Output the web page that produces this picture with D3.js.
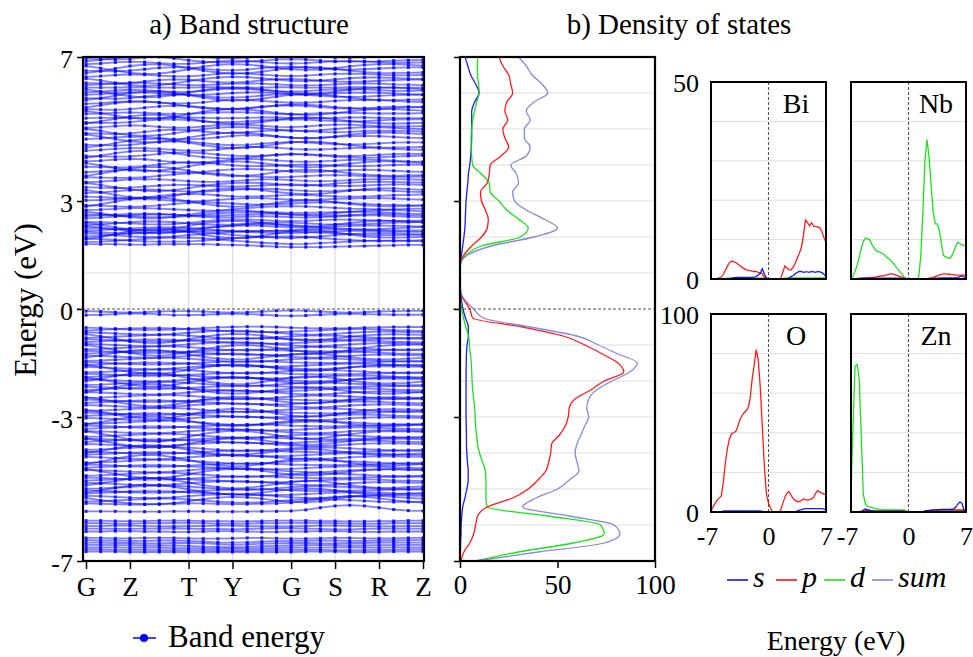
<!DOCTYPE html>
<html><head><meta charset="utf-8">
<script src="https://cdn.jsdelivr.net/npm/d3@7"></script>
<style>
body{margin:0;background:#fff}
</style>
</head><body>
<svg id="c" width="973" height="657"></svg>
<script>
// ---------------- DATA ----------------
const kLabels = ["G","Z","T","Y","G","S","R","Z"];
const kLabelIndex = [0,3,7,10,14,17,20,23];
const energyTicks = [7,3,0,-3,-7];

const conductionBands = [
[1.80,1.80,1.80,1.79,1.79,1.80,1.80,1.80,1.80,1.79,1.78,1.77,1.75,1.73,1.72,1.72,1.72,1.73,1.74,1.75,1.76,1.77,1.78,1.78],
[1.86,1.87,1.89,1.92,1.95,1.97,1.98,1.98,1.96,1.93,1.90,1.87,1.84,1.82,1.80,1.81,1.83,1.85,1.87,1.89,1.90,1.90,1.89,1.88],
[1.95,1.94,1.92,1.90,1.88,1.87,1.87,1.88,1.90,1.93,1.96,1.98,2.00,2.01,2.02,2.00,1.97,1.94,1.92,1.90,1.89,1.89,1.90,1.91],
[1.95,2.00,2.08,2.16,2.22,2.24,2.21,2.14,2.06,2.00,1.97,1.98,2.03,2.10,2.16,2.19,2.18,2.13,2.07,2.02,1.99,1.98,1.99,2.01],
[2.02,2.03,2.06,2.10,2.13,2.15,2.16,2.15,2.13,2.10,2.06,2.03,2.00,1.98,1.97,1.99,2.02,2.05,2.08,2.10,2.11,2.10,2.08,2.06],
[2.10,2.08,2.05,2.02,2.00,2.00,2.02,2.05,2.08,2.11,2.14,2.16,2.17,2.17,2.16,2.14,2.12,2.10,2.08,2.06,2.05,2.05,2.06,2.08],
[2.15,2.13,2.11,2.10,2.10,2.12,2.14,2.16,2.17,2.17,2.16,2.14,2.12,2.11,2.11,2.12,2.14,2.16,2.17,2.17,2.16,2.15,2.14,2.14],
[2.18,2.19,2.21,2.24,2.26,2.27,2.27,2.25,2.22,2.19,2.17,2.16,2.16,2.17,2.19,2.21,2.22,2.22,2.21,2.20,2.19,2.18,2.18,2.18],
[2.25,2.24,2.22,2.20,2.19,2.19,2.20,2.22,2.26,2.29,2.31,2.32,2.31,2.29,2.27,2.26,2.27,2.29,2.31,2.32,2.32,2.31,2.30,2.29],
[2.30,2.27,2.22,2.16,2.12,2.10,2.12,2.17,2.23,2.28,2.32,2.35,2.36,2.35,2.33,2.30,2.27,2.24,2.22,2.21,2.22,2.24,2.26,2.28],
[2.33,2.35,2.38,2.41,2.43,2.43,2.41,2.38,2.35,2.34,2.35,2.37,2.39,2.40,2.40,2.38,2.36,2.35,2.35,2.36,2.38,2.40,2.41,2.42],
[2.40,2.34,2.27,2.21,2.18,2.19,2.24,2.31,2.38,2.43,2.45,2.44,2.40,2.35,2.31,2.29,2.30,2.34,2.39,2.43,2.45,2.45,2.43,2.41],
[2.42,2.41,2.40,2.38,2.36,2.35,2.36,2.39,2.43,2.47,2.49,2.49,2.47,2.45,2.44,2.45,2.47,2.48,2.48,2.47,2.46,2.45,2.45,2.46],
[2.52,2.54,2.57,2.60,2.62,2.63,2.62,2.59,2.56,2.54,2.55,2.57,2.58,2.57,2.55,2.54,2.55,2.57,2.59,2.60,2.60,2.58,2.56,2.55],
[2.58,2.60,2.62,2.64,2.65,2.64,2.62,2.60,2.59,2.59,2.61,2.63,2.64,2.64,2.62,2.60,2.59,2.59,2.61,2.63,2.64,2.63,2.61,2.60],
[2.63,2.62,2.60,2.58,2.56,2.55,2.56,2.58,2.62,2.66,2.68,2.69,2.69,2.68,2.67,2.67,2.68,2.69,2.70,2.70,2.69,2.67,2.65,2.64],
[2.70,2.66,2.60,2.55,2.52,2.52,2.56,2.62,2.68,2.72,2.74,2.73,2.70,2.66,2.63,2.62,2.63,2.66,2.70,2.73,2.75,2.75,2.73,2.71],
[2.75,2.76,2.78,2.80,2.80,2.79,2.77,2.75,2.73,2.74,2.77,2.80,2.83,2.85,2.86,2.85,2.83,2.81,2.79,2.78,2.77,2.77,2.78,2.79],
[2.85,2.91,2.98,3.05,3.09,3.10,3.06,2.99,2.92,2.87,2.84,2.85,2.89,2.95,3.00,3.02,3.01,2.97,2.92,2.88,2.86,2.85,2.86,2.87],
[2.88,2.87,2.85,2.84,2.85,2.88,2.92,2.95,2.96,2.95,2.93,2.91,2.90,2.91,2.93,2.95,2.96,2.96,2.94,2.92,2.90,2.89,2.88,2.88],
[3.02,3.03,3.05,3.07,3.06,3.04,3.01,2.99,3.00,3.03,3.06,3.08,3.08,3.06,3.04,3.03,3.04,3.06,3.07,3.08,3.08,3.07,3.05,3.04],
[3.12,3.11,3.09,3.08,3.10,3.14,3.18,3.20,3.19,3.16,3.13,3.12,3.13,3.15,3.17,3.17,3.15,3.13,3.12,3.12,3.14,3.16,3.17,3.18],
[3.22,3.24,3.27,3.30,3.32,3.31,3.28,3.26,3.26,3.28,3.31,3.33,3.34,3.33,3.30,3.28,3.27,3.28,3.30,3.31,3.30,3.28,3.26,3.25],
[3.30,3.24,3.17,3.11,3.08,3.09,3.14,3.21,3.28,3.33,3.35,3.34,3.30,3.25,3.21,3.19,3.20,3.24,3.29,3.33,3.35,3.35,3.33,3.31],
[3.38,3.37,3.36,3.37,3.40,3.43,3.45,3.45,3.43,3.41,3.40,3.41,3.43,3.45,3.46,3.45,3.43,3.42,3.42,3.43,3.45,3.46,3.46,3.45],
[3.50,3.45,3.38,3.32,3.28,3.27,3.30,3.36,3.42,3.47,3.50,3.51,3.50,3.47,3.44,3.43,3.45,3.48,3.51,3.53,3.54,3.53,3.52,3.51],
[3.52,3.54,3.57,3.60,3.61,3.60,3.58,3.55,3.53,3.53,3.55,3.58,3.60,3.60,3.58,3.56,3.55,3.56,3.58,3.60,3.61,3.61,3.60,3.59],
[3.66,3.65,3.64,3.64,3.66,3.70,3.74,3.77,3.78,3.76,3.72,3.69,3.67,3.66,3.67,3.69,3.71,3.72,3.71,3.69,3.68,3.67,3.67,3.68],
[3.70,3.76,3.83,3.90,3.94,3.95,3.91,3.84,3.77,3.72,3.69,3.70,3.74,3.80,3.85,3.87,3.86,3.82,3.77,3.73,3.71,3.70,3.71,3.72],
[3.80,3.82,3.85,3.87,3.86,3.83,3.80,3.79,3.81,3.85,3.88,3.89,3.88,3.85,3.82,3.81,3.82,3.84,3.86,3.87,3.86,3.84,3.82,3.81],
[3.95,3.94,3.93,3.94,3.97,4.02,4.06,4.08,4.07,4.03,3.99,3.97,3.97,3.98,4.00,4.01,4.00,3.98,3.97,3.97,3.98,4.00,4.01,4.01],
[4.05,3.99,3.92,3.86,3.83,3.84,3.89,3.96,4.03,4.08,4.10,4.09,4.05,4.00,3.96,3.94,3.95,3.99,4.04,4.08,4.10,4.10,4.08,4.06],
[4.10,4.12,4.15,4.17,4.16,4.12,4.08,4.06,4.07,4.11,4.15,4.17,4.16,4.13,4.10,4.09,4.10,4.12,4.14,4.15,4.14,4.12,4.10,4.09],
[4.20,4.26,4.33,4.38,4.40,4.38,4.33,4.27,4.22,4.19,4.18,4.20,4.24,4.28,4.30,4.29,4.26,4.23,4.21,4.20,4.21,4.23,4.25,4.26],
[4.25,4.24,4.23,4.24,4.27,4.31,4.34,4.35,4.33,4.29,4.26,4.25,4.26,4.28,4.30,4.30,4.28,4.26,4.25,4.26,4.28,4.30,4.31,4.31],
[4.40,4.42,4.45,4.47,4.47,4.45,4.42,4.40,4.40,4.43,4.47,4.50,4.50,4.48,4.45,4.43,4.43,4.45,4.47,4.48,4.47,4.45,4.43,4.42],
[4.48,4.54,4.61,4.68,4.72,4.73,4.69,4.62,4.55,4.50,4.47,4.48,4.52,4.58,4.63,4.65,4.64,4.60,4.55,4.51,4.49,4.48,4.49,4.50],
[4.56,4.55,4.54,4.56,4.60,4.64,4.66,4.65,4.61,4.57,4.55,4.56,4.59,4.62,4.64,4.63,4.60,4.58,4.57,4.58,4.60,4.62,4.63,4.63],
[4.72,4.74,4.77,4.79,4.78,4.75,4.72,4.71,4.73,4.77,4.81,4.83,4.82,4.79,4.76,4.75,4.76,4.78,4.80,4.81,4.80,4.78,4.76,4.75],
[4.85,4.79,4.72,4.66,4.63,4.64,4.69,4.76,4.83,4.88,4.90,4.89,4.85,4.80,4.76,4.74,4.75,4.79,4.84,4.88,4.90,4.90,4.88,4.86],
[4.88,4.87,4.86,4.88,4.92,4.96,4.98,4.97,4.93,4.90,4.89,4.91,4.94,4.96,4.96,4.94,4.92,4.91,4.92,4.94,4.95,4.95,4.94,4.93],
[5.00,4.95,4.88,4.83,4.81,4.83,4.88,4.94,5.00,5.04,5.06,5.05,5.02,4.98,4.95,4.94,4.96,5.00,5.03,5.05,5.05,5.03,5.01,5.00],
[5.03,5.05,5.08,5.10,5.09,5.06,5.04,5.04,5.07,5.11,5.13,5.12,5.09,5.06,5.05,5.07,5.10,5.12,5.12,5.10,5.08,5.07,5.07,5.08],
[5.15,5.21,5.28,5.35,5.39,5.40,5.36,5.29,5.22,5.17,5.14,5.15,5.19,5.25,5.30,5.32,5.31,5.27,5.22,5.18,5.16,5.15,5.16,5.17],
[5.18,5.17,5.17,5.19,5.23,5.26,5.27,5.25,5.21,5.19,5.19,5.21,5.24,5.26,5.27,5.26,5.24,5.22,5.21,5.22,5.24,5.26,5.27,5.27],
[5.30,5.31,5.31,5.30,5.30,5.31,5.32,5.32,5.31,5.30,5.30,5.31,5.32,5.32,5.31,5.30,5.30,5.31,5.32,5.32,5.31,5.30,5.30,5.30],
[5.42,5.43,5.45,5.46,5.45,5.43,5.42,5.42,5.44,5.46,5.47,5.46,5.44,5.42,5.41,5.42,5.44,5.45,5.45,5.44,5.43,5.43,5.43,5.44],
[5.50,5.44,5.37,5.31,5.28,5.29,5.34,5.41,5.48,5.53,5.55,5.54,5.50,5.45,5.41,5.39,5.40,5.44,5.49,5.53,5.55,5.55,5.53,5.51],
[5.55,5.54,5.53,5.55,5.59,5.63,5.65,5.64,5.60,5.57,5.56,5.58,5.62,5.65,5.66,5.64,5.61,5.58,5.57,5.58,5.60,5.62,5.62,5.61],
[5.60,5.66,5.72,5.76,5.77,5.74,5.69,5.63,5.58,5.55,5.55,5.57,5.61,5.65,5.68,5.68,5.65,5.61,5.58,5.56,5.56,5.58,5.60,5.61],
[5.70,5.72,5.75,5.77,5.76,5.73,5.71,5.71,5.74,5.78,5.81,5.81,5.78,5.75,5.73,5.73,5.75,5.78,5.80,5.81,5.80,5.78,5.76,5.75],
[5.80,5.86,5.93,6.00,6.04,6.05,6.01,5.94,5.87,5.82,5.79,5.80,5.84,5.90,5.95,5.97,5.96,5.92,5.87,5.83,5.81,5.80,5.81,5.82],
[5.86,5.85,5.84,5.86,5.90,5.94,5.96,5.95,5.91,5.88,5.87,5.89,5.93,5.96,5.97,5.95,5.92,5.90,5.89,5.90,5.92,5.94,5.95,5.95],
[5.95,5.97,6.00,6.02,6.02,6.00,5.97,5.95,5.95,5.97,6.00,6.02,6.02,6.00,5.97,5.96,5.97,5.99,6.01,6.02,6.01,5.99,5.97,5.96],
[6.02,6.04,6.07,6.09,6.08,6.05,6.03,6.03,6.06,6.10,6.12,6.11,6.08,6.05,6.04,6.05,6.08,6.10,6.11,6.10,6.08,6.06,6.06,6.07],
[6.10,6.04,5.97,5.91,5.88,5.89,5.94,6.01,6.08,6.13,6.15,6.14,6.10,6.05,6.01,5.99,6.00,6.04,6.09,6.13,6.15,6.15,6.13,6.11],
[6.15,6.15,6.15,6.16,6.16,6.15,6.15,6.15,6.16,6.16,6.15,6.15,6.15,6.16,6.16,6.15,6.15,6.15,6.16,6.16,6.15,6.15,6.15,6.15],
[6.22,6.24,6.26,6.28,6.28,6.26,6.24,6.22,6.22,6.24,6.26,6.27,6.26,6.24,6.22,6.21,6.22,6.24,6.26,6.27,6.26,6.24,6.23,6.22],
[6.28,6.27,6.26,6.28,6.32,6.36,6.38,6.37,6.33,6.30,6.29,6.31,6.35,6.38,6.39,6.37,6.34,6.32,6.31,6.32,6.34,6.36,6.37,6.37],
[6.40,6.35,6.28,6.22,6.20,6.22,6.27,6.33,6.39,6.43,6.45,6.44,6.41,6.37,6.34,6.33,6.35,6.38,6.41,6.43,6.43,6.42,6.40,6.39],
[6.45,6.47,6.50,6.52,6.51,6.48,6.46,6.46,6.49,6.53,6.55,6.54,6.51,6.48,6.47,6.48,6.51,6.53,6.54,6.53,6.51,6.49,6.49,6.50],
[6.55,6.61,6.68,6.75,6.79,6.80,6.76,6.69,6.62,6.57,6.54,6.55,6.59,6.65,6.70,6.72,6.71,6.67,6.62,6.58,6.56,6.55,6.56,6.57],
[6.62,6.61,6.60,6.62,6.66,6.70,6.72,6.71,6.67,6.64,6.63,6.65,6.69,6.72,6.73,6.71,6.68,6.66,6.65,6.66,6.68,6.70,6.71,6.71],
[6.75,6.69,6.62,6.56,6.53,6.54,6.59,6.66,6.73,6.78,6.80,6.79,6.75,6.70,6.66,6.64,6.65,6.69,6.74,6.78,6.80,6.80,6.78,6.76],
[6.80,6.82,6.85,6.87,6.86,6.83,6.81,6.81,6.84,6.88,6.90,6.89,6.86,6.83,6.82,6.83,6.86,6.88,6.89,6.88,6.86,6.84,6.84,6.85],
[6.88,6.92,6.97,7.01,7.02,7.00,6.96,6.91,6.87,6.85,6.85,6.87,6.90,6.93,6.94,6.93,6.90,6.88,6.87,6.87,6.88,6.90,6.91,6.92],
[6.95,6.94,6.93,6.95,6.99,7.03,7.05,7.04,7.00,6.97,6.96,6.98,7.02,7.05,7.06,7.04,7.01,6.99,6.98,6.99,7.01,7.03,7.04,7.04]
];

const gapBands = [
[-0.06,-0.07,-0.09,-0.10,-0.09,-0.07,-0.06,-0.06,-0.07,-0.09,-0.10,-0.09,-0.07,-0.05,-0.04,-0.05,-0.07,-0.09,-0.10,-0.09,-0.07,-0.06,-0.05,-0.05],
[-0.17,-0.16,-0.14,-0.12,-0.13,-0.15,-0.17,-0.17,-0.16,-0.14,-0.13,-0.14,-0.16,-0.18,-0.19,-0.18,-0.16,-0.14,-0.13,-0.14,-0.15,-0.16,-0.16,-0.16]
];

const valenceBands = [
[-0.52,-0.53,-0.55,-0.57,-0.58,-0.58,-0.57,-0.55,-0.53,-0.51,-0.50,-0.49,-0.49,-0.50,-0.52,-0.53,-0.54,-0.54,-0.53,-0.52,-0.51,-0.50,-0.50,-0.50],
[-0.60,-0.58,-0.56,-0.54,-0.53,-0.53,-0.54,-0.56,-0.58,-0.60,-0.62,-0.63,-0.64,-0.64,-0.63,-0.61,-0.59,-0.57,-0.56,-0.56,-0.57,-0.59,-0.60,-0.61],
[-0.65,-0.66,-0.68,-0.70,-0.71,-0.71,-0.69,-0.66,-0.63,-0.61,-0.60,-0.61,-0.63,-0.66,-0.69,-0.71,-0.71,-0.69,-0.66,-0.64,-0.63,-0.63,-0.64,-0.65],
[-0.70,-0.76,-0.83,-0.90,-0.94,-0.95,-0.91,-0.84,-0.77,-0.72,-0.69,-0.70,-0.74,-0.80,-0.85,-0.87,-0.86,-0.82,-0.77,-0.73,-0.71,-0.70,-0.71,-0.72],
[-0.80,-0.79,-0.77,-0.75,-0.73,-0.72,-0.72,-0.74,-0.77,-0.80,-0.82,-0.83,-0.82,-0.79,-0.76,-0.74,-0.73,-0.74,-0.76,-0.78,-0.80,-0.81,-0.81,-0.80],
[-0.84,-0.85,-0.87,-0.89,-0.90,-0.90,-0.89,-0.87,-0.85,-0.83,-0.82,-0.81,-0.81,-0.82,-0.84,-0.85,-0.86,-0.86,-0.85,-0.84,-0.83,-0.82,-0.82,-0.82],
[-0.92,-0.90,-0.88,-0.86,-0.85,-0.85,-0.86,-0.88,-0.90,-0.92,-0.94,-0.95,-0.96,-0.96,-0.95,-0.93,-0.91,-0.89,-0.88,-0.88,-0.89,-0.91,-0.92,-0.93],
[-0.97,-0.98,-1.00,-1.02,-1.03,-1.03,-1.01,-0.98,-0.95,-0.93,-0.92,-0.93,-0.95,-0.98,-1.01,-1.03,-1.03,-1.01,-0.98,-0.96,-0.95,-0.95,-0.96,-0.97],
[-1.00,-1.06,-1.14,-1.22,-1.28,-1.30,-1.27,-1.20,-1.12,-1.05,-1.01,-1.00,-1.03,-1.08,-1.14,-1.19,-1.21,-1.19,-1.14,-1.08,-1.03,-1.00,-0.99,-0.99],
[-1.12,-1.11,-1.09,-1.07,-1.05,-1.04,-1.04,-1.06,-1.09,-1.12,-1.14,-1.15,-1.14,-1.11,-1.08,-1.06,-1.05,-1.06,-1.08,-1.10,-1.12,-1.13,-1.13,-1.12],
[-1.16,-1.17,-1.19,-1.21,-1.22,-1.22,-1.21,-1.19,-1.17,-1.15,-1.14,-1.13,-1.13,-1.14,-1.16,-1.17,-1.18,-1.18,-1.17,-1.16,-1.15,-1.14,-1.14,-1.14],
[-1.24,-1.22,-1.20,-1.18,-1.17,-1.17,-1.18,-1.20,-1.22,-1.24,-1.26,-1.27,-1.28,-1.28,-1.27,-1.25,-1.23,-1.21,-1.20,-1.20,-1.21,-1.23,-1.24,-1.25],
[-1.29,-1.30,-1.32,-1.34,-1.35,-1.35,-1.33,-1.30,-1.27,-1.25,-1.24,-1.25,-1.27,-1.30,-1.33,-1.35,-1.35,-1.33,-1.30,-1.28,-1.27,-1.27,-1.28,-1.29],
[-1.35,-1.29,-1.22,-1.16,-1.13,-1.14,-1.19,-1.26,-1.33,-1.38,-1.40,-1.39,-1.35,-1.30,-1.26,-1.24,-1.25,-1.29,-1.34,-1.38,-1.40,-1.40,-1.38,-1.36],
[-1.44,-1.43,-1.41,-1.39,-1.37,-1.36,-1.36,-1.38,-1.41,-1.44,-1.46,-1.47,-1.46,-1.43,-1.40,-1.38,-1.37,-1.38,-1.40,-1.42,-1.44,-1.45,-1.45,-1.44],
[-1.48,-1.49,-1.51,-1.53,-1.54,-1.54,-1.53,-1.51,-1.49,-1.47,-1.46,-1.45,-1.45,-1.46,-1.48,-1.49,-1.50,-1.50,-1.49,-1.48,-1.47,-1.46,-1.46,-1.46],
[-1.55,-1.61,-1.68,-1.75,-1.79,-1.80,-1.76,-1.69,-1.62,-1.57,-1.54,-1.55,-1.59,-1.65,-1.70,-1.72,-1.71,-1.67,-1.62,-1.58,-1.56,-1.55,-1.56,-1.57],
[-1.56,-1.54,-1.52,-1.50,-1.49,-1.49,-1.50,-1.52,-1.54,-1.56,-1.58,-1.59,-1.60,-1.60,-1.59,-1.57,-1.55,-1.53,-1.52,-1.52,-1.53,-1.55,-1.56,-1.57],
[-1.61,-1.62,-1.64,-1.66,-1.67,-1.67,-1.65,-1.62,-1.59,-1.57,-1.56,-1.57,-1.59,-1.62,-1.65,-1.67,-1.67,-1.65,-1.62,-1.60,-1.59,-1.59,-1.60,-1.61],
[-1.76,-1.75,-1.73,-1.71,-1.69,-1.68,-1.68,-1.70,-1.73,-1.76,-1.78,-1.79,-1.78,-1.75,-1.72,-1.70,-1.69,-1.70,-1.72,-1.74,-1.76,-1.77,-1.77,-1.76],
[-1.80,-1.81,-1.83,-1.85,-1.86,-1.86,-1.85,-1.83,-1.81,-1.79,-1.78,-1.77,-1.77,-1.78,-1.80,-1.81,-1.82,-1.82,-1.81,-1.80,-1.79,-1.78,-1.78,-1.78],
[-1.89,-1.87,-1.85,-1.83,-1.82,-1.82,-1.83,-1.85,-1.87,-1.89,-1.91,-1.92,-1.93,-1.93,-1.92,-1.90,-1.88,-1.86,-1.85,-1.85,-1.86,-1.88,-1.89,-1.90],
[-1.90,-1.96,-2.03,-2.10,-2.14,-2.15,-2.11,-2.04,-1.97,-1.92,-1.89,-1.90,-1.94,-2.00,-2.05,-2.07,-2.06,-2.02,-1.97,-1.93,-1.91,-1.90,-1.91,-1.92],
[-2.00,-1.94,-1.86,-1.80,-1.77,-1.78,-1.84,-1.92,-2.00,-2.06,-2.09,-2.08,-2.03,-1.96,-1.90,-1.87,-1.88,-1.93,-1.99,-2.04,-2.07,-2.07,-2.05,-2.02],
[-1.95,-1.96,-1.98,-2.00,-2.01,-2.01,-1.99,-1.96,-1.93,-1.91,-1.90,-1.91,-1.93,-1.96,-1.99,-2.01,-2.01,-1.99,-1.96,-1.94,-1.93,-1.93,-1.94,-1.95],
[-2.11,-2.10,-2.08,-2.06,-2.04,-2.03,-2.03,-2.05,-2.08,-2.11,-2.13,-2.14,-2.13,-2.10,-2.07,-2.05,-2.04,-2.05,-2.07,-2.09,-2.11,-2.12,-2.12,-2.11],
[-2.16,-2.17,-2.19,-2.21,-2.22,-2.22,-2.21,-2.19,-2.17,-2.15,-2.14,-2.13,-2.13,-2.14,-2.16,-2.17,-2.18,-2.18,-2.17,-2.16,-2.15,-2.14,-2.14,-2.14],
[-2.25,-2.23,-2.21,-2.19,-2.18,-2.18,-2.19,-2.21,-2.23,-2.25,-2.27,-2.28,-2.29,-2.29,-2.28,-2.26,-2.24,-2.22,-2.21,-2.21,-2.22,-2.24,-2.25,-2.26],
[-2.30,-2.24,-2.17,-2.11,-2.08,-2.09,-2.14,-2.21,-2.28,-2.33,-2.35,-2.34,-2.30,-2.25,-2.21,-2.19,-2.20,-2.24,-2.29,-2.33,-2.35,-2.35,-2.33,-2.31],
[-2.31,-2.32,-2.34,-2.36,-2.37,-2.37,-2.35,-2.32,-2.29,-2.27,-2.26,-2.27,-2.29,-2.32,-2.35,-2.37,-2.37,-2.35,-2.32,-2.30,-2.29,-2.29,-2.30,-2.31],
[-2.45,-2.51,-2.58,-2.65,-2.69,-2.70,-2.66,-2.59,-2.52,-2.47,-2.44,-2.45,-2.49,-2.55,-2.60,-2.62,-2.61,-2.57,-2.52,-2.48,-2.46,-2.45,-2.46,-2.47],
[-2.47,-2.46,-2.44,-2.42,-2.40,-2.39,-2.39,-2.41,-2.44,-2.47,-2.49,-2.50,-2.49,-2.46,-2.43,-2.41,-2.40,-2.41,-2.43,-2.45,-2.47,-2.48,-2.48,-2.47],
[-2.52,-2.53,-2.55,-2.57,-2.58,-2.58,-2.57,-2.55,-2.53,-2.51,-2.50,-2.49,-2.49,-2.50,-2.52,-2.53,-2.54,-2.54,-2.53,-2.52,-2.51,-2.50,-2.50,-2.50],
[-2.61,-2.59,-2.57,-2.55,-2.54,-2.54,-2.55,-2.57,-2.59,-2.61,-2.63,-2.64,-2.65,-2.65,-2.64,-2.62,-2.60,-2.58,-2.57,-2.57,-2.58,-2.60,-2.61,-2.62],
[-2.67,-2.68,-2.70,-2.72,-2.73,-2.73,-2.71,-2.68,-2.65,-2.63,-2.62,-2.63,-2.65,-2.68,-2.71,-2.73,-2.73,-2.71,-2.68,-2.66,-2.65,-2.65,-2.66,-2.67],
[-2.80,-2.86,-2.93,-3.00,-3.04,-3.05,-3.01,-2.94,-2.86,-2.80,-2.77,-2.78,-2.83,-2.90,-2.96,-2.99,-2.98,-2.93,-2.87,-2.82,-2.79,-2.78,-2.79,-2.80],
[-2.83,-2.82,-2.80,-2.78,-2.76,-2.75,-2.75,-2.77,-2.80,-2.83,-2.85,-2.86,-2.85,-2.82,-2.79,-2.77,-2.76,-2.77,-2.79,-2.81,-2.83,-2.84,-2.84,-2.83],
[-2.88,-2.89,-2.91,-2.93,-2.94,-2.94,-2.93,-2.91,-2.89,-2.87,-2.86,-2.85,-2.85,-2.86,-2.88,-2.89,-2.90,-2.90,-2.89,-2.88,-2.87,-2.86,-2.86,-2.86],
[-2.97,-2.95,-2.93,-2.91,-2.90,-2.90,-2.91,-2.93,-2.95,-2.97,-2.99,-3.00,-3.01,-3.01,-3.00,-2.98,-2.96,-2.94,-2.93,-2.93,-2.94,-2.96,-2.97,-2.98],
[-3.03,-3.04,-3.06,-3.08,-3.09,-3.09,-3.07,-3.04,-3.01,-2.99,-2.98,-2.99,-3.01,-3.04,-3.07,-3.09,-3.09,-3.07,-3.04,-3.02,-3.01,-3.01,-3.02,-3.03],
[-3.19,-3.18,-3.16,-3.14,-3.12,-3.11,-3.11,-3.13,-3.16,-3.19,-3.21,-3.22,-3.21,-3.18,-3.15,-3.13,-3.12,-3.13,-3.15,-3.17,-3.19,-3.20,-3.20,-3.19],
[-3.20,-3.14,-3.07,-3.01,-2.98,-2.99,-3.04,-3.11,-3.18,-3.23,-3.25,-3.24,-3.20,-3.15,-3.11,-3.09,-3.10,-3.14,-3.19,-3.23,-3.25,-3.25,-3.23,-3.21],
[-3.24,-3.25,-3.27,-3.29,-3.30,-3.30,-3.29,-3.27,-3.25,-3.23,-3.22,-3.21,-3.21,-3.22,-3.24,-3.25,-3.26,-3.26,-3.25,-3.24,-3.23,-3.22,-3.22,-3.22],
[-3.33,-3.31,-3.29,-3.27,-3.26,-3.26,-3.27,-3.29,-3.31,-3.33,-3.35,-3.36,-3.37,-3.37,-3.36,-3.34,-3.32,-3.30,-3.29,-3.29,-3.30,-3.32,-3.33,-3.34],
[-3.39,-3.40,-3.42,-3.44,-3.45,-3.45,-3.43,-3.40,-3.37,-3.35,-3.34,-3.35,-3.37,-3.40,-3.43,-3.45,-3.45,-3.43,-3.40,-3.38,-3.37,-3.37,-3.38,-3.39],
[-3.40,-3.46,-3.54,-3.62,-3.67,-3.68,-3.63,-3.55,-3.47,-3.41,-3.38,-3.39,-3.44,-3.51,-3.57,-3.60,-3.59,-3.54,-3.48,-3.43,-3.40,-3.39,-3.40,-3.41],
[-3.55,-3.54,-3.52,-3.50,-3.48,-3.47,-3.47,-3.49,-3.52,-3.55,-3.57,-3.58,-3.57,-3.54,-3.51,-3.49,-3.48,-3.49,-3.51,-3.53,-3.55,-3.56,-3.56,-3.55],
[-3.60,-3.61,-3.63,-3.65,-3.66,-3.66,-3.65,-3.63,-3.61,-3.59,-3.58,-3.57,-3.57,-3.58,-3.60,-3.61,-3.62,-3.62,-3.61,-3.60,-3.59,-3.58,-3.58,-3.58],
[-3.60,-3.66,-3.73,-3.80,-3.84,-3.85,-3.81,-3.74,-3.67,-3.62,-3.59,-3.60,-3.64,-3.70,-3.75,-3.77,-3.76,-3.72,-3.67,-3.63,-3.61,-3.60,-3.61,-3.62],
[-3.69,-3.67,-3.65,-3.63,-3.62,-3.62,-3.63,-3.65,-3.67,-3.69,-3.71,-3.72,-3.73,-3.73,-3.72,-3.70,-3.68,-3.66,-3.65,-3.65,-3.66,-3.68,-3.69,-3.70],
[-3.75,-3.76,-3.78,-3.80,-3.81,-3.81,-3.79,-3.76,-3.73,-3.71,-3.70,-3.71,-3.73,-3.76,-3.79,-3.81,-3.81,-3.79,-3.76,-3.74,-3.73,-3.73,-3.74,-3.75],
[-3.91,-3.90,-3.88,-3.86,-3.84,-3.83,-3.83,-3.85,-3.88,-3.91,-3.93,-3.94,-3.93,-3.90,-3.87,-3.85,-3.84,-3.85,-3.87,-3.89,-3.91,-3.92,-3.92,-3.91],
[-3.96,-3.97,-3.99,-4.01,-4.02,-4.02,-4.01,-3.99,-3.97,-3.95,-3.94,-3.93,-3.93,-3.94,-3.96,-3.97,-3.98,-3.98,-3.97,-3.96,-3.95,-3.94,-3.94,-3.94],
[-4.00,-3.94,-3.87,-3.81,-3.78,-3.79,-3.84,-3.91,-3.98,-4.03,-4.05,-4.04,-4.00,-3.95,-3.91,-3.89,-3.90,-3.94,-3.99,-4.03,-4.05,-4.05,-4.03,-4.01],
[-4.05,-4.03,-4.01,-3.99,-3.98,-3.98,-3.99,-4.01,-4.03,-4.05,-4.07,-4.08,-4.09,-4.09,-4.08,-4.06,-4.04,-4.02,-4.01,-4.01,-4.02,-4.04,-4.05,-4.06],
[-4.11,-4.12,-4.14,-4.16,-4.17,-4.17,-4.15,-4.12,-4.09,-4.07,-4.06,-4.07,-4.09,-4.12,-4.15,-4.17,-4.17,-4.15,-4.12,-4.10,-4.09,-4.09,-4.10,-4.11],
[-4.27,-4.26,-4.24,-4.22,-4.20,-4.19,-4.19,-4.21,-4.24,-4.27,-4.29,-4.30,-4.29,-4.26,-4.23,-4.21,-4.20,-4.21,-4.23,-4.25,-4.27,-4.28,-4.28,-4.27],
[-4.30,-4.24,-4.16,-4.09,-4.05,-4.06,-4.12,-4.20,-4.28,-4.34,-4.37,-4.36,-4.31,-4.24,-4.18,-4.15,-4.16,-4.21,-4.27,-4.32,-4.35,-4.35,-4.33,-4.31],
[-4.32,-4.33,-4.35,-4.37,-4.38,-4.38,-4.37,-4.35,-4.33,-4.31,-4.30,-4.29,-4.29,-4.30,-4.32,-4.33,-4.34,-4.34,-4.33,-4.32,-4.31,-4.30,-4.30,-4.30],
[-4.41,-4.39,-4.37,-4.35,-4.34,-4.34,-4.35,-4.37,-4.39,-4.41,-4.43,-4.44,-4.45,-4.45,-4.44,-4.42,-4.40,-4.38,-4.37,-4.37,-4.38,-4.40,-4.41,-4.42],
[-4.45,-4.51,-4.58,-4.65,-4.69,-4.70,-4.66,-4.59,-4.52,-4.47,-4.44,-4.45,-4.49,-4.55,-4.60,-4.62,-4.61,-4.57,-4.52,-4.48,-4.46,-4.45,-4.46,-4.47],
[-4.47,-4.48,-4.50,-4.52,-4.53,-4.53,-4.51,-4.48,-4.45,-4.43,-4.42,-4.43,-4.45,-4.48,-4.51,-4.53,-4.53,-4.51,-4.48,-4.46,-4.45,-4.45,-4.46,-4.47],
[-4.63,-4.62,-4.60,-4.58,-4.56,-4.55,-4.55,-4.57,-4.60,-4.63,-4.65,-4.66,-4.65,-4.62,-4.59,-4.57,-4.56,-4.57,-4.59,-4.61,-4.63,-4.64,-4.64,-4.63],
[-4.68,-4.69,-4.71,-4.73,-4.74,-4.74,-4.73,-4.71,-4.69,-4.67,-4.66,-4.65,-4.65,-4.66,-4.68,-4.69,-4.70,-4.70,-4.69,-4.68,-4.67,-4.66,-4.66,-4.66],
[-4.77,-4.75,-4.73,-4.71,-4.70,-4.70,-4.71,-4.73,-4.75,-4.77,-4.79,-4.80,-4.81,-4.81,-4.80,-4.78,-4.76,-4.74,-4.73,-4.73,-4.74,-4.76,-4.77,-4.78],
[-4.83,-4.84,-4.86,-4.88,-4.89,-4.89,-4.87,-4.84,-4.81,-4.79,-4.78,-4.79,-4.81,-4.84,-4.87,-4.89,-4.89,-4.87,-4.84,-4.82,-4.81,-4.81,-4.82,-4.83],
[-4.90,-4.84,-4.78,-4.72,-4.69,-4.70,-4.75,-4.82,-4.89,-4.95,-4.98,-4.97,-4.92,-4.86,-4.80,-4.77,-4.78,-4.83,-4.89,-4.94,-4.97,-4.97,-4.95,-4.93],
[-4.99,-4.98,-4.96,-4.94,-4.92,-4.91,-4.91,-4.93,-4.96,-4.99,-5.01,-5.02,-5.01,-4.98,-4.95,-4.93,-4.92,-4.93,-4.95,-4.97,-4.99,-5.00,-5.00,-4.99],
[-5.04,-5.05,-5.07,-5.09,-5.10,-5.10,-5.09,-5.07,-5.05,-5.03,-5.02,-5.01,-5.01,-5.02,-5.04,-5.05,-5.06,-5.06,-5.05,-5.04,-5.03,-5.02,-5.02,-5.02],
[-5.10,-5.04,-4.97,-4.91,-4.88,-4.89,-4.94,-5.01,-5.08,-5.13,-5.15,-5.14,-5.10,-5.05,-5.01,-4.99,-5.00,-5.04,-5.09,-5.13,-5.15,-5.15,-5.13,-5.11],
[-5.13,-5.11,-5.09,-5.07,-5.06,-5.06,-5.07,-5.09,-5.11,-5.13,-5.15,-5.16,-5.17,-5.17,-5.16,-5.14,-5.12,-5.10,-5.09,-5.09,-5.10,-5.12,-5.13,-5.14],
[-5.19,-5.20,-5.22,-5.24,-5.25,-5.25,-5.23,-5.20,-5.17,-5.15,-5.14,-5.15,-5.17,-5.20,-5.23,-5.25,-5.25,-5.23,-5.20,-5.18,-5.17,-5.17,-5.18,-5.19],
[-5.25,-5.31,-5.36,-5.40,-5.42,-5.42,-5.39,-5.34,-5.28,-5.24,-5.22,-5.23,-5.27,-5.32,-5.36,-5.37,-5.34,-5.28,-5.22,-5.19,-5.19,-5.22,-5.25,-5.27],
[-5.35,-5.34,-5.32,-5.30,-5.28,-5.27,-5.27,-5.29,-5.32,-5.35,-5.37,-5.38,-5.37,-5.34,-5.31,-5.29,-5.28,-5.29,-5.31,-5.33,-5.35,-5.36,-5.36,-5.35],
[-5.40,-5.41,-5.42,-5.43,-5.43,-5.42,-5.41,-5.40,-5.40,-5.41,-5.42,-5.42,-5.41,-5.40,-5.38,-5.33,-5.27,-5.22,-5.20,-5.22,-5.26,-5.31,-5.35,-5.38],
[-5.62,-5.62,-5.62,-5.63,-5.63,-5.63,-5.62,-5.62,-5.62,-5.63,-5.63,-5.63,-5.62,-5.62,-5.61,-5.58,-5.52,-5.47,-5.45,-5.47,-5.52,-5.57,-5.60,-5.61]
];

const semicoreBands = [
[-5.88,-5.88,-5.89,-5.89,-5.89,-5.88,-5.88,-5.88,-5.89,-5.89,-5.90,-5.90,-5.89,-5.88,-5.88,-5.88,-5.89,-5.89,-5.90,-5.90,-5.89,-5.89,-5.88,-5.88],
[-5.95,-5.95,-5.96,-5.96,-5.95,-5.95,-5.94,-5.94,-5.95,-5.96,-5.96,-5.96,-5.95,-5.95,-5.94,-5.94,-5.95,-5.95,-5.96,-5.96,-5.96,-5.95,-5.95,-5.95],
[-6.03,-6.03,-6.02,-6.02,-6.03,-6.04,-6.04,-6.03,-6.03,-6.02,-6.02,-6.03,-6.04,-6.04,-6.04,-6.03,-6.02,-6.02,-6.03,-6.03,-6.04,-6.04,-6.03,-6.03],
[-6.10,-6.10,-6.11,-6.11,-6.10,-6.10,-6.09,-6.10,-6.11,-6.11,-6.12,-6.11,-6.10,-6.09,-6.09,-6.10,-6.11,-6.12,-6.12,-6.11,-6.10,-6.10,-6.10,-6.10],
[-6.18,-6.18,-6.17,-6.17,-6.18,-6.18,-6.19,-6.19,-6.18,-6.17,-6.17,-6.18,-6.19,-6.19,-6.18,-6.18,-6.17,-6.17,-6.18,-6.19,-6.19,-6.18,-6.18,-6.18],
[-6.36,-6.36,-6.37,-6.37,-6.36,-6.36,-6.36,-6.37,-6.38,-6.38,-6.37,-6.36,-6.36,-6.37,-6.38,-6.38,-6.37,-6.36,-6.36,-6.37,-6.37,-6.37,-6.36,-6.36],
[-6.42,-6.43,-6.43,-6.44,-6.44,-6.43,-6.43,-6.44,-6.46,-6.48,-6.49,-6.48,-6.46,-6.45,-6.44,-6.44,-6.43,-6.43,-6.44,-6.44,-6.43,-6.43,-6.42,-6.42],
[-6.49,-6.49,-6.50,-6.50,-6.51,-6.51,-6.50,-6.50,-6.51,-6.53,-6.55,-6.54,-6.52,-6.51,-6.50,-6.50,-6.51,-6.51,-6.50,-6.50,-6.49,-6.49,-6.49,-6.49],
[-6.55,-6.55,-6.56,-6.56,-6.57,-6.57,-6.57,-6.58,-6.60,-6.61,-6.62,-6.61,-6.59,-6.58,-6.57,-6.56,-6.56,-6.56,-6.57,-6.57,-6.56,-6.56,-6.55,-6.55],
[-6.62,-6.62,-6.62,-6.63,-6.63,-6.63,-6.64,-6.64,-6.65,-6.66,-6.66,-6.66,-6.65,-6.64,-6.63,-6.63,-6.63,-6.62,-6.62,-6.63,-6.63,-6.62,-6.62,-6.62],
[-6.68,-6.68,-6.69,-6.69,-6.69,-6.70,-6.70,-6.70,-6.70,-6.71,-6.71,-6.71,-6.70,-6.70,-6.69,-6.69,-6.69,-6.70,-6.70,-6.70,-6.69,-6.69,-6.68,-6.68],
[-6.74,-6.74,-6.74,-6.75,-6.75,-6.75,-6.75,-6.75,-6.75,-6.75,-6.75,-6.75,-6.75,-6.75,-6.75,-6.74,-6.74,-6.74,-6.75,-6.75,-6.75,-6.74,-6.74,-6.74]
];

const energyGrid = [-7,-6.75,-6.5,-6.25,-6,-5.75,-5.5,-5.25,-5,-4.75,-4.5,-4.25,-4,-3.75,-3.5,-3.25,-3,-2.75,-2.5,-2.25,-2,-1.75,-1.5,-1.25,-1,-0.75,-0.5,-0.25,0,0.25,0.5,0.75,1,1.25,1.5,1.75,2,2.25,2.5,2.75,3,3.25,3.5,3.75,4,4.25,4.5,4.75,5,5.25,5.5,5.75,6,6.25,6.5,6.75,7];

// total DOS (panel b)
const dosS   = [0,0.2,0.3,0.5,0.6,0.9,1.4,2.5,3.5,4.2,4.2,3.8,3.5,3.3,3.3,3.2,3.1,3.1,3.1,3.1,3.1,3.1,3.2,3.3,3.6,4.3,4.3,2.8,1.5,0.8,0.3,0,0,0,0.8,1.4,2,2.5,2.7,2.9,3.1,3.5,4,4.3,5,5.5,5.8,6,6,6,6,7.5,9.8,8,5.5,4,2.6];
const dosP   = [0.5,2,5,7,8,9,14,27,35,40,44,45.5,46.5,47,51,54,55.5,56,59,67,74,84,81,73,64,53,32,6.5,5,2,0,0,0,0,2,6,11,14,14.5,13,11,10.5,14,15,15.5,21,25,23,22,24.5,23,24,27,26,25,22,20];
const dosD   = [8,30,58,74,72,45,14,13.3,13.3,13.3,13,11.5,10,9,8.5,8,7.8,7.5,7,6.5,6.2,6,5.8,5.3,4.8,4.4,3,1.8,0.9,0.4,0,0,0,0.3,3,11,31,35,30,24,20,15.5,15,11,6.5,6,5.8,5.7,6,6.5,7.5,8.5,9.8,9.5,9,9,9];
const dosSum = [8,40,74,82,79,56,32,39,50,56,61,60,59,60,62,64,66,65,66,70,78,87,91,81,71,60,36,12,7,2.5,0.3,0,0,0.3,4,16,38,50,43,34,28,27,30,29,26,34,36,33,33,36,34,38,45,42,37,34,30];

// projected DOS (small panels)
const biS = [0,0,0,0,0,0,0,0,0,0.1,0.2,0.3,0.4,0.4,0.4,0.4,0.4,0.4,0.4,0.4,0.4,0.5,0.6,1,1.5,2.6,1.2,0.3,0,0,0,0,0,0,0,0,0,0.1,0.3,0.6,0.9,1.3,1.7,1.9,1.9,1.7,1.8,1.8,1.7,1.9,1.8,1.7,1.9,1.8,1.6,1.2,0.7];
const biP = [0,0,0,0.1,0.3,0.5,1.2,2.2,3.3,4.2,4.5,4.4,4.2,3.8,3.4,3,2.7,2.4,2.2,2.1,2,1.9,1.9,1.7,1.6,1.3,0.4,0.1,0,0,0,0,0,0,0.2,1.8,3.3,2.8,2.3,2.3,3,4,5.3,6.5,8,11,15,14.3,13.5,14.3,13.4,13.3,13.2,13,12,10.5,9.2];
const biD = [0,0,0,0,0,0,0.1,0.1,0.2,0.2,0.2,0.2,0.2,0.2,0.2,0.2,0.2,0.2,0.2,0.2,0.2,0.2,0.2,0.2,0.2,0.2,0.1,0,0,0,0,0,0,0,0,0.1,0.2,0.2,0.3,0.3,0.3,0.3,0.3,0.3,0.3,0.3,0.3,0.3,0.3,0.3,0.3,0.3,0.3,0.3,0.3,0.3,0.3];
const nbS = [0,0,0.1,0.1,0.2,0.2,0.2,0.2,0.2,0.2,0.2,0.2,0.2,0.2,0.2,0.2,0.2,0.2,0.2,0.2,0.2,0.2,0.2,0.2,0.2,0.1,0.1,0,0,0,0,0,0,0,0,0,0,0,0,0.1,0.1,0.2,0.2,0.2,0.3,0.3,0.3,0.3,0.3,0.3,0.3,0.3,0.4,0.6,0.8,0.5,0.3];
const nbP = [0,0,0,0,0,0.1,0.2,0.2,0.3,0.3,0.4,0.4,0.5,0.6,0.7,0.8,0.8,1,1.1,1.3,1.3,1.2,1,0.8,0.6,0.4,0.2,0.1,0,0,0,0,0,0,0,0,0,0.1,0.2,0.3,0.4,0.6,0.8,1,1.2,1.3,1.3,1.2,1.2,1.1,1.1,1,1,1,1,1,1];
const nbD = [0,0.8,2,3.5,5.5,7.8,9.5,10.4,10.2,10,9,8,7.3,7,6.8,6.6,6.2,5.7,5.3,4.9,4.3,3.7,3,2.4,1.7,1.1,0.4,0.1,0,0,0,0,0,0.5,6,17,30,35.4,31,24,17,14,14,12.5,9,6,5.6,5.4,5.2,5.8,7,8.3,9.3,9,8.6,8.6,8.6];
const oS  = [0,0,0,0,0,0,0.6,0.6,0.6,0.6,0.6,0.6,0.6,0.6,0.6,0.6,0.6,0.6,0.6,0.6,0.6,0.6,0.6,0.6,0.6,0.3,0,0,0,0,0,0,0,0,0,0,0,0,0,0,0,0,0.6,0.9,1.2,1.5,1.7,1.7,1.7,1.7,1.7,1.7,1.7,1.7,1.7,1.5,1.2];
const oP  = [0.7,2.5,4.5,6,7,8,15,25,32,37,39.5,40,40.6,43,46.5,48.5,50,51,52.5,57,66.7,74,82,77,63,43,23,9,4.5,2,0,0,0,0,1,4.5,7.5,9.5,10.3,8.5,6.8,6,5.3,5.2,5.8,6.6,6.2,6,6.2,6.6,7.5,9.5,10.8,10,9.5,9,8.6];
const oD  = [0,0,0,0,0,0,0.2,0.2,0.2,0.2,0.2,0.2,0.2,0.2,0.2,0.2,0.2,0.2,0.2,0.2,0.2,0.2,0.2,0.2,0.2,0.1,0,0,0,0,0,0,0,0,0,0,0,0,0,0.1,0.2,0.2,0.2,0.2,0.2,0.2,0.2,0.2,0.2,0.2,0.2,0.2,0.2,0.2,0.2,0.2,0.2];
const znS = [0,0,0,0,0,0,1,1.5,1.2,0.9,0.6,0.5,0.4,0.4,0.4,0.4,0.4,0.4,0.4,0.4,0.4,0.4,0.4,0.4,0.4,0.4,0.2,0,0,0,0,0,0,0,0,0,0.5,0.6,0.8,0.9,1,1.1,1.2,1.2,1.3,1.3,1.3,1.3,1.3,1.4,1.5,2.5,4,5,4.5,1,0.8];
const znP = [0,0,0,0,0.2,0.4,0.5,0.7,0.8,0.7,0.6,0.5,0.5,0.4,0.4,0.4,0.4,0.4,0.4,0.4,0.4,0.4,0.4,0.4,0.4,0.4,0.4,0.2,0,0,0,0,0,0,0,0,0.5,0.6,0.7,0.8,0.8,0.9,1,1,1,1.1,1.1,1.1,1.1,1,1,1,1,1,1,1,1];
const znD = [8.6,45,73.7,74.5,67,38,9,4,2.9,2.6,2.4,2,1.7,1.5,1.3,1.2,1.1,1,1,1,1,1,1,1,1,1,1,0.6,0,0,0,0,0,0,0,0,0.3,0.4,0.4,0.5,0.5,0.6,0.7,0.7,0.8,0.8,0.8,0.8,0.8,0.8,0.8,0.8,0.8,0.8,0.8,0.8,0.8];

const pdosNames = ["Bi","Nb","O","Zn"];
const pdosMax = [50,50,100,100];
const orbitalNames = ["s","p","d","sum"];

// ---------------- DRAWING ----------------
const FONT = '"Liberation Serif","Times New Roman",Times,serif';
const svg = d3.select("#c");
const colS = "#0000ff", colP = "#ff0000", colD = "#00e000", colSum = "#7b7bd8";
const GRID = "#dedede";

// ===== panel a: band structure =====
const bL = 83, bR = 424, pT = 57, pB = 561;
const kx = d3.scaleLinear().domain([0,23]).range([86,423]);
const ey = d3.scaleLinear().domain([-7,7]).range([pB,pT]);

svg.append("text").attr("x",249).attr("y",34).attr("text-anchor","middle")
  .style("font-size","29px").text("a) Band structure");

const gridVals = [-6,-5,-4,-3,-2,-1,1,2,3,4,5,6];
const bandGrid = svg.append("g");
bandGrid.selectAll("line.h").data(gridVals).join("line")
  .attr("x1",bL).attr("x2",bR).attr("y1",d=>ey(d)).attr("y2",d=>ey(d))
  .attr("stroke",GRID).attr("stroke-width",1);
bandGrid.selectAll("line.v").data(kLabelIndex.slice(1,-1)).join("line")
  .attr("x1",d=>kx(d)).attr("x2",d=>kx(d)).attr("y1",pT).attr("y2",pB)
  .attr("stroke",GRID).attr("stroke-width",1.2);

svg.append("clipPath").attr("id","bclip").append("rect")
  .attr("x",bL).attr("y",pT).attr("width",bR-bL).attr("height",pB-pT);

const allBands = [...conductionBands, ...gapBands, ...valenceBands, ...semicoreBands];
const bandLine = d3.line().x((d,i)=>kx(i)).y(d=>ey(d));
const bandLayer = svg.append("g").attr("clip-path","url(#bclip)");
bandLayer.selectAll("path").data(allBands).join("path")
  .attr("d",bandLine).attr("fill","none").attr("stroke","#0000ff")
  .attr("stroke-opacity",0.5).attr("stroke-width",1.8);
const pts = allBands.flatMap(b=>b.map((e,i)=>[i,e]));
bandLayer.selectAll("rect").data(pts).join("rect")
  .attr("x",d=>kx(d[0])-1.5).attr("y",d=>ey(d[1])-1.5)
  .attr("width",3).attr("height",3).attr("fill","#0000ff").attr("fill-opacity",0.85);

// zero line
svg.append("line").attr("x1",77).attr("x2",bR).attr("y1",ey(0)).attr("y2",ey(0))
  .attr("stroke","#555").attr("stroke-width",1.2).attr("stroke-dasharray","3,2");

// frame
svg.append("rect").attr("x",bL).attr("y",pT).attr("width",bR-bL).attr("height",pB-pT)
  .attr("fill","none").attr("stroke","#000").attr("stroke-width",2.2);

// axes
const yAx = svg.append("g").attr("transform",`translate(${bL},0)`)
  .call(d3.axisLeft(ey).tickValues(energyTicks).tickSize(6).tickPadding(4).tickFormat(d=>String(d)));
yAx.select(".domain").remove();
yAx.selectAll("line").attr("stroke","#000").attr("stroke-width",1.5);
yAx.selectAll("text").style("font-size","26px").attr("dy","0.42em");

const xAx = svg.append("g").attr("transform",`translate(0,${pB})`)
  .call(d3.axisBottom(kx).tickValues(kLabelIndex).tickSize(8).tickPadding(8).tickFormat((d,i)=>kLabels[i]));
xAx.select(".domain").remove();
xAx.selectAll("line").attr("stroke","#000").attr("stroke-width",1.5);
xAx.selectAll("text").style("font-size","27px");

svg.append("text").attr("transform","translate(36,300) rotate(-90)").attr("text-anchor","middle")
  .style("font-size","31px").text("Energy (eV)");

// legend a
svg.append("line").attr("x1",133).attr("x2",156).attr("y1",638).attr("y2",638)
  .attr("stroke","#0000ff").attr("stroke-width",1.5);
svg.append("circle").attr("cx",144).attr("cy",638).attr("r",4).attr("fill","#0000ff");
svg.append("text").attr("x",168).attr("y",647).style("font-size","31px").text("Band energy");

// ===== panel b: DOS =====
const dL = 460, dR = 655;
const dx = d3.scaleLinear().domain([0,100]).range([dL,dR]);

svg.append("text").attr("x",679).attr("y",34).attr("text-anchor","middle")
  .style("font-size","29px").text("b) Density of states");

svg.append("g").selectAll("line").data(gridVals).join("line")
  .attr("x1",dL).attr("x2",dR).attr("y1",d=>ey(d)).attr("y2",d=>ey(d))
  .attr("stroke",GRID).attr("stroke-width",1);

svg.append("line").attr("x1",453).attr("x2",dR).attr("y1",ey(0)).attr("y2",ey(0))
  .attr("stroke","#555").attr("stroke-width",1.2).attr("stroke-dasharray","3,2");

const dosLine = d3.line().curve(d3.curveMonotoneY).x(d=>dx(d)).y((d,i)=>ey(energyGrid[i]));
[[dosS,colS],[dosD,colD],[dosP,colP],[dosSum,colSum]].forEach(([v,c])=>{
  svg.append("path").attr("d",dosLine(v)).attr("fill","none")
    .attr("stroke",c).attr("stroke-width",1.3).attr("stroke-opacity",0.9);
});

svg.append("rect").attr("x",dL).attr("y",pT).attr("width",dR-dL).attr("height",pB-pT)
  .attr("fill","none").attr("stroke","#000").attr("stroke-width",2.2);

const dyAx = svg.append("g").attr("transform",`translate(${dL},0)`)
  .call(d3.axisLeft(ey).tickValues(energyTicks).tickSize(6).tickFormat(""));
dyAx.select(".domain").remove();
dyAx.selectAll("line").attr("stroke","#000").attr("stroke-width",1.5);

const dxAx = svg.append("g").attr("transform",`translate(0,${pB})`)
  .call(d3.axisBottom(dx).tickValues([0,50,100]).tickSize(7).tickPadding(7).tickFormat(d=>String(d)));
dxAx.select(".domain").remove();
dxAx.selectAll("line").attr("stroke","#000").attr("stroke-width",1.5);
dxAx.selectAll("text").style("font-size","27px");

// ===== small projected-DOS panels =====
const pdosSeries = [[biS,biP,biD],[nbS,nbP,nbD],[oS,oP,oD],[znS,znP,znD]];
const panelBox = [
  {x0:711,x1:826,y0:82,y1:279},
  {x0:851,x1:966,y0:82,y1:279},
  {x0:711,x1:826,y0:314,y1:512},
  {x0:851,x1:966,y0:314,y1:512}
];
pdosNames.forEach((name,pi)=>{
  const b = panelBox[pi];
  const px = d3.scaleLinear().domain([-7,7]).range([b.x0,b.x1]);
  const py = d3.scaleLinear().domain([0,pdosMax[pi]]).range([b.y1,b.y0]);
  const g = svg.append("g");
  g.selectAll("line.g").data(py.ticks(5).filter(v=>v>0 && v<pdosMax[pi])).join("line")
    .attr("x1",b.x0).attr("x2",b.x1).attr("y1",d=>py(d)).attr("y2",d=>py(d))
    .attr("stroke",GRID).attr("stroke-width",1);
  g.append("line").attr("x1",px(0)).attr("x2",px(0)).attr("y1",b.y0).attr("y2",b.y1)
    .attr("stroke","#555").attr("stroke-width",1.1).attr("stroke-dasharray","3,2");
  const cols = [colS,colP,colD];
  const ln = d3.line().x((d,i)=>px(energyGrid[i])).y(d=>py(d));
  [2,1,0].forEach(oi=>{
    g.append("path").attr("d",ln(pdosSeries[pi][oi])).attr("fill","none")
      .attr("stroke",cols[oi]).attr("stroke-width",1.3).attr("stroke-opacity",0.9);
  });
  g.append("rect").attr("x",b.x0).attr("y",b.y0).attr("width",b.x1-b.x0).attr("height",b.y1-b.y0)
    .attr("fill","none").attr("stroke","#000").attr("stroke-width",2);
  g.append("text").attr("x",b.x0+85).attr("y",b.y0+31).attr("text-anchor","middle")
    .style("font-size","28px").text(name);
  if (pi===0 || pi===2) {
    const yl = g.append("g").attr("transform",`translate(${b.x0},0)`)
      .call(d3.axisLeft(py).tickValues([0,pdosMax[pi]]).tickSize(0).tickPadding(12).tickFormat(d=>String(d)));
    yl.select(".domain").remove();
    yl.selectAll("text").style("font-size","26px").attr("dy","0.36em");
  }
  if (pi>=2) {
    const xl = g.append("g").attr("transform",`translate(0,${b.y1})`)
      .call(d3.axisBottom(px).tickValues([-7,0,7]).tickSize(0).tickPadding(15).tickFormat(d=>String(d)));
    xl.select(".domain").remove();
    xl.selectAll("text").style("font-size","26px")
      .attr("dx",d=>d===-7?"-4px":"0");
  }
});

// legend b
const legItems = [[727,colS],[776,colP],[824,colD],[872,colSum]];
orbitalNames.forEach((n,i)=>{
  const [x,c] = legItems[i];
  svg.append("line").attr("x1",x).attr("x2",x+21).attr("y1",580).attr("y2",580)
    .attr("stroke",c).attr("stroke-width",1.5);
  svg.append("text").attr("x",x+26).attr("y",587).style("font-size","30px")
    .style("font-style","italic").text(n);
});
svg.append("text").attr("x",836).attr("y",650).attr("text-anchor","middle")
  .style("font-size","28px").text("Energy (eV)");

// serif font everywhere (overrides the axis defaults)
svg.selectAll("text").style("font-family",FONT).style("fill","#000");
</script>
</body></html>
